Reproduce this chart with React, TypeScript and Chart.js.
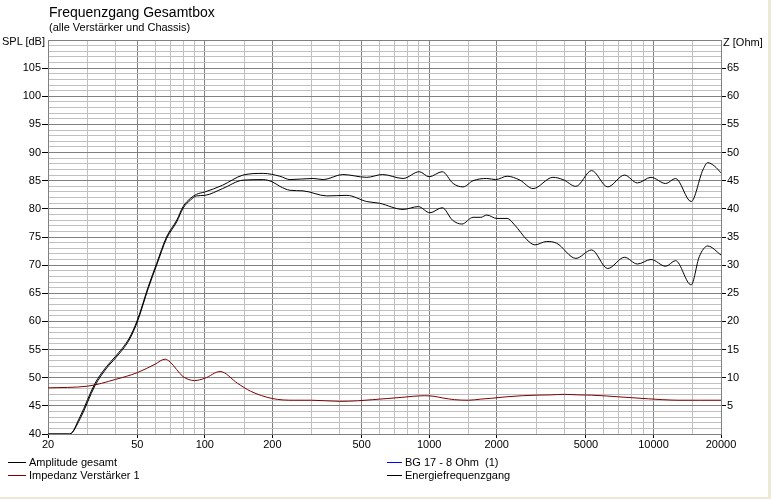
import React, { useEffect, useRef } from 'react';
import { Chart, registerables } from 'chart.js';

Chart.register(...registerables);

// ---- Data ----
const ampFreq = [20, 25, 27.8, 32.4, 36.5, 40, 46, 50, 56, 61, 67.5, 75, 80, 86.5, 92, 100, 120, 148, 182, 216, 240, 304, 337, 412, 527, 620, 765, 904, 1000, 1144, 1280, 1416, 1570, 1807, 1982, 2226, 2540, 2905, 3560, 3950, 4510, 5300, 6250, 7430, 8480, 9750, 11340, 12540, 14720, 16600, 17450, 18700, 20000];
const ampDb = [40, 40, 43.1, 49.0, 52.0, 53.8, 57.0, 60.2, 66.2, 70.3, 75.0, 78.0, 80.4, 81.9, 82.6, 83.0, 84.2, 86.0, 86.3, 85.8, 85.2, 85.4, 85.2, 86.1, 85.6, 86.1, 85.4, 86.6, 85.7, 86.6, 84.5, 83.9, 85.0, 85.4, 85.2, 85.8, 85.1, 83.6, 85.6, 85.2, 84.0, 86.8, 83.9, 86.0, 84.6, 85.6, 84.5, 85.4, 81.3, 86.9, 88.2, 87.6, 86.4];

const energyFreq = [20, 25, 27.8, 32.4, 36.5, 40, 46, 50, 56, 61, 67.5, 75, 80, 86.5, 92, 100, 120, 148, 182, 200, 216, 240, 274, 350, 430, 527, 600, 765, 895, 1008, 1144, 1270, 1400, 1570, 1700, 1807, 2000, 2226, 2410, 2730, 2960, 3340, 3700, 4510, 5300, 6250, 7430, 8480, 9750, 11340, 12540, 14720, 16000, 17450, 20000];
const energyDb = [40, 40, 42.7, 48.6, 51.7, 53.5, 56.7, 59.9, 65.9, 70.0, 74.7, 77.7, 80.1, 81.6, 82.3, 82.4, 83.6, 85.1, 85.2, 84.8, 84.0, 83.3, 83.2, 82.3, 82.4, 81.3, 81.0, 79.9, 80.4, 79.3, 80.2, 78.0, 77.3, 78.5, 78.5, 78.9, 78.3, 78.3, 77.1, 74.5, 73.6, 74.2, 73.9, 71.2, 72.7, 69.4, 71.4, 70.2, 71.0, 69.8, 70.8, 66.5, 71.5, 73.4, 71.8];

const impFreq = [20, 30, 40, 50, 60, 66.5, 70, 80, 90, 100, 117, 140, 160, 200, 250, 300, 400, 480, 560, 650, 750, 850, 950, 1050, 1150, 1300, 1500, 1700, 1900, 2200, 2600, 3000, 3500, 4000, 4600, 5300, 6200, 7000, 8000, 9500, 11000, 13000, 16000, 20000];
const impOhm = [8.2, 8.5, 9.7, 10.9, 12.4, 13.3, 12.8, 10.2, 9.5, 9.9, 11.1, 9.0, 7.6, 6.3, 6.0, 6.0, 5.8, 5.9, 6.1, 6.3, 6.5, 6.7, 6.8, 6.7, 6.4, 6.1, 6.0, 6.2, 6.35, 6.6, 6.8, 6.9, 6.95, 7.05, 6.95, 6.9, 6.75, 6.6, 6.45, 6.25, 6.1, 6.0, 6.0, 6.0];

const xLabelTicks = [20, 50, 100, 200, 500, 1000, 2000, 5000, 10000, 20000];
const xMinorTicks = [30, 40, 60, 70, 80, 90, 150, 300, 400, 600, 700, 800, 900, 1500, 3000, 4000, 6000, 7000, 8000, 9000, 15000];
const splTickLabels = [40, 45, 50, 55, 60, 65, 70, 75, 80, 85, 90, 95, 100, 105];
const ohmTickLabels = [5, 10, 15, 20, 25, 30, 35, 40, 45, 50, 55, 60, 65];

const SPL_MIN = 40;
const SPL_MAX = 110;
const OHM_MIN = 0;
const OHM_MAX = 70;

const FONT = '"Liberation Sans", Arial, sans-serif';

const seriesInfo = [
  { label: 'Amplitude gesamt', color: '#000000' },
  { label: 'Impedanz Verstärker 1', color: '#800000' },
  { label: 'BG 17 - 8 Ohm  (1)', color: '#0000ff' },
  { label: 'Energiefrequenzgang', color: '#000000' },
];

const toPts = (xs: number[], ys: number[]) => xs.map((x, i) => ({ x, y: ys[i] }));

export default function App() {
  const ref = useRef<HTMLCanvasElement>(null);

  useEffect(() => {
    const canvas = ref.current;
    if (!canvas) return;
    const chart = new Chart(canvas, {
      type: 'line',
      data: {
        datasets: [
          {
            label: seriesInfo[0].label,
            data: toPts(ampFreq, ampDb),
            yAxisID: 'y',
            borderColor: seriesInfo[0].color,
          },
          {
            label: seriesInfo[1].label,
            data: toPts(impFreq, impOhm),
            yAxisID: 'y1',
            borderColor: seriesInfo[1].color,
          },
          {
            label: seriesInfo[2].label,
            data: [],
            yAxisID: 'y',
            borderColor: seriesInfo[2].color,
          },
          {
            label: seriesInfo[3].label,
            data: toPts(energyFreq, energyDb),
            yAxisID: 'y',
            borderColor: seriesInfo[3].color,
          },
        ],
      },
      options: {
        animation: false,
        responsive: false,
        maintainAspectRatio: false,
        layout: { padding: { top: 40, left: 0, right: 0, bottom: 0 } },
        plugins: {
          legend: { display: false },
          title: { display: false },
          tooltip: { enabled: false },
        },
        elements: {
          point: { radius: 0 },
          line: { borderWidth: 1, cubicInterpolationMode: 'monotone', fill: false },
        },
        scales: {
          x: {
            type: 'logarithmic',
            position: 'bottom',
            min: 20,
            max: 20000,
            afterBuildTicks: (s: any) => {
              s.ticks = [...xLabelTicks, ...xMinorTicks].sort((a, b) => a - b).map((v) => ({ value: v }));
            },
            afterFit: (s: any) => {
              s.height = 65;
            },
            ticks: {
              autoSkip: false,
              maxRotation: 0,
              minRotation: 0,
              padding: 0,
              color: '#000',
              font: { family: FONT, size: 11 },
              callback: (v: any) => (xLabelTicks.includes(Number(v)) ? String(v) : ''),
            },
            grid: {
              color: (ctx: any) => (xLabelTicks.includes(ctx.tick?.value) ? '#808080' : '#c0c0c0'),
              tickColor: (ctx: any) => (xLabelTicks.includes(ctx.tick?.value) ? '#000000' : 'rgba(0,0,0,0)'),
              tickLength: 4,
              lineWidth: 1,
            },
            border: { display: true, color: '#808080', width: 1 },
          },
          y: {
            type: 'linear',
            position: 'left',
            min: SPL_MIN,
            max: SPL_MAX,
            afterBuildTicks: (s: any) => {
              const t = [];
              for (let v = SPL_MIN; v <= SPL_MAX; v += 1) t.push({ value: v });
              s.ticks = t;
            },
            afterFit: (s: any) => {
              s.width = 48;
            },
            ticks: {
              autoSkip: false,
              padding: 1,
              color: '#000',
              font: { family: FONT, size: 11 },
              callback: (v: any) => (splTickLabels.includes(Number(v)) ? String(v) : ''),
            },
            grid: {
              color: (ctx: any) => (ctx.tick && ctx.tick.value % 5 === 0 ? '#808080' : '#c0c0c0'),
              tickColor: (ctx: any) => (splTickLabels.includes(ctx.tick?.value) ? '#000000' : 'rgba(0,0,0,0)'),
              tickLength: 6,
              lineWidth: 1,
            },
            border: { display: true, color: '#808080', width: 1 },
          },
          y1: {
            type: 'linear',
            position: 'right',
            min: OHM_MIN,
            max: OHM_MAX,
            afterBuildTicks: (s: any) => {
              const t = [];
              for (let v = OHM_MIN; v <= OHM_MAX; v += 5) t.push({ value: v });
              s.ticks = t;
            },
            afterFit: (s: any) => {
              s.width = 50;
            },
            ticks: {
              autoSkip: false,
              padding: 1,
              color: '#000',
              font: { family: FONT, size: 11 },
              callback: (v: any) => (ohmTickLabels.includes(Number(v)) ? String(v) : ''),
            },
            grid: {
              drawOnChartArea: false,
              tickColor: (ctx: any) => (ohmTickLabels.includes(ctx.tick?.value) ? '#000000' : 'rgba(0,0,0,0)'),
              tickLength: 5,
              lineWidth: 1,
            },
            border: { display: true, color: '#808080', width: 1 },
          },
        },
      } as any,
    });
    return () => chart.destroy();
  }, []);

  const textBase: React.CSSProperties = {
    position: 'absolute',
    fontFamily: FONT,
    color: '#000',
    whiteSpace: 'pre',
  };

  const legendCols = [
    { left: 8, lineW: 18, items: [seriesInfo[0], seriesInfo[1]] },
    { left: 387, lineW: 15, items: [seriesInfo[2], seriesInfo[3]] },
  ];
  const legendRowCenters = [462, 475.5];

  return (
    <div
      style={{
        position: 'absolute',
        left: 0,
        top: 0,
        width: 771,
        height: 499,
        background: '#ECE9D8',
        overflow: 'hidden',
      }}
    >
      <div style={{ position: 'absolute', left: 0, top: 0, width: 768, height: 497, background: '#ffffff' }} />
      <canvas ref={ref} width={771} height={499} style={{ position: 'absolute', left: 0, top: 0 }} />
      <div style={{ ...textBase, left: 49, top: 4, fontSize: 14, lineHeight: '16px' }}>Frequenzgang Gesamtbox</div>
      <div style={{ ...textBase, left: 49, top: 21, fontSize: 11, lineHeight: '13px' }}>(alle Verstärker und Chassis)</div>
      <div style={{ ...textBase, left: 2, top: 35, fontSize: 11, lineHeight: '13px' }}>SPL [dB]</div>
      <div style={{ ...textBase, left: 723, top: 36, fontSize: 11, lineHeight: '13px' }}>Z [Ohm]</div>
      {legendCols.map((col, ci) =>
        col.items.map((it, ri) => (
          <div
            key={ci + '-' + ri}
            style={{
              ...textBase,
              left: col.left,
              top: legendRowCenters[ri] - 6.5,
              height: 13,
              fontSize: 11,
              lineHeight: '13px',
              display: 'flex',
              alignItems: 'center',
            }}
          >
            <span style={{ display: 'inline-block', width: col.lineW, height: 1, background: it.color, marginRight: 3 }} />
            <span>{it.label}</span>
          </div>
        ))
      )}
    </div>
  );
}
